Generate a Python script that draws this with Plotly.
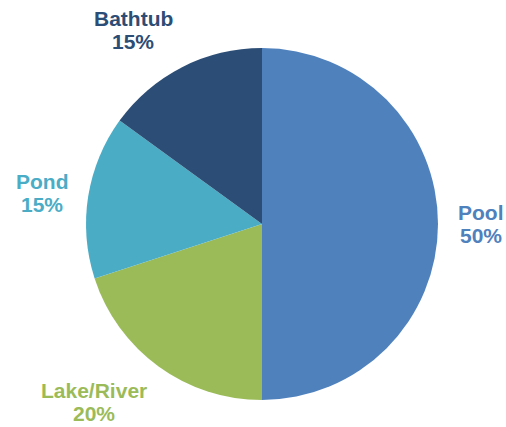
import math
import plotly.graph_objects as go

labels = ["Pool", "Lake/River", "Pond", "Bathtub"]
values = [50, 20, 15, 15]
colors = ["#4F81BD", "#9BBB59", "#4BACC6", "#2C4D75"]

W, H = 506, 427
cx, cy, r = 262, 224, 176
gap = 20
font_size = 21
line_pitch = 23
FONT = "Liberation Sans, Arial, sans-serif"

# Arial Bold advance widths (per 1000 em) for estimating label block widths
ADV = {"%": 889, "/": 278, "L": 611, "a": 556, "k": 556, "e": 556, "R": 722,
       "i": 278, "v": 556, "r": 389, "P": 667, "o": 611, "n": 611, "d": 611,
       "l": 278, "B": 722, "t": 333, "h": 611, "u": 611, "b": 611}


def text_width(s):
    return sum(ADV.get(c, 556) for c in s) / 1000 * font_size


fig = go.Figure(go.Pie(
    labels=labels,
    values=values,
    sort=False,
    direction="clockwise",
    rotation=0,
    marker=dict(colors=colors, line=dict(width=0)),
    textinfo="none",
    showlegend=False,
    hoverinfo="label+percent",
    domain=dict(x=[(cx - r) / W, (cx + r) / W], y=[(H - cy - r) / H, (H - cy + r) / H]),
))

# Data labels outside each slice at its mid-angle (derived from the values)
total = sum(values)
cum = 0.0
annotations = []
cap = 0.716 * font_size
block_h = cap + line_pitch
for lab, v, col in zip(labels, values, colors):
    mid = (cum + v / 2) / total * 2 * math.pi  # clockwise from 12 o'clock
    cum += v
    pct = f"{round(v / total * 100)}%"
    dx, dy = math.sin(mid), -math.cos(mid)  # screen coords (y down)
    px = cx + (r + gap) * dx
    py = cy + (r + gap) * dy
    w = max(text_width(lab), text_width(pct))
    sx = 1 if dx > 0.3 else (-1 if dx < -0.3 else 0)
    sy = 1 if dy > 0.3 else (-1 if dy < -0.3 else 0)
    bx = px + sx * w / 2
    by = py + sy * block_h / 2
    for txt, ly in ((lab, by - line_pitch / 2), (pct, by + line_pitch / 2)):
        annotations.append(dict(
            x=bx / W, y=(H - ly) / H, xref="paper", yref="paper",
            text=f"<b>{txt}</b>",
            showarrow=False, xanchor="center", yanchor="middle", align="center",
            font=dict(family=FONT, size=font_size, color=col),
        ))

fig.update_layout(
    width=W, height=H,
    margin=dict(l=0, r=0, t=0, b=0),
    paper_bgcolor="white",
    plot_bgcolor="white",
    annotations=annotations,
)

fig.write_html("out.html")
